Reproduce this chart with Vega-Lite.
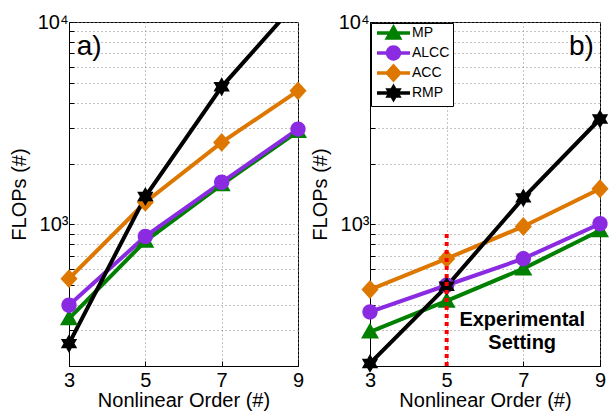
{
  "$schema": "https://vega.github.io/schema/vega-lite/v6.json",
  "padding": {"left": 8, "top": 11, "right": 0, "bottom": 0},
  "background": "white",
  "bounds": "flush",
  "spacing": 72,
  "data": {
    "values": [
      {"panel": "a", "series": "MP", "order": 3, "flops": 343},
      {"panel": "a", "series": "MP", "order": 5, "flops": 828},
      {"panel": "a", "series": "MP", "order": 7, "flops": 1574},
      {"panel": "a", "series": "MP", "order": 9, "flops": 2884},
      {"panel": "a", "series": "ALCC", "order": 3, "flops": 399},
      {"panel": "a", "series": "ALCC", "order": 5, "flops": 873},
      {"panel": "a", "series": "ALCC", "order": 7, "flops": 1616},
      {"panel": "a", "series": "ALCC", "order": 9, "flops": 2958},
      {"panel": "a", "series": "ACC", "order": 3, "flops": 540},
      {"panel": "a", "series": "ACC", "order": 5, "flops": 1288},
      {"panel": "a", "series": "ACC", "order": 7, "flops": 2543},
      {"panel": "a", "series": "ACC", "order": 9, "flops": 4571},
      {"panel": "a", "series": "RMP", "order": 3, "flops": 258},
      {"panel": "a", "series": "RMP", "order": 5, "flops": 1374},
      {"panel": "a", "series": "RMP", "order": 7, "flops": 4786},
      {"panel": "a", "series": "RMP", "order": 9, "flops": 12700},
      {"panel": "b", "series": "MP", "order": 3, "flops": 295},
      {"panel": "b", "series": "MP", "order": 5, "flops": 419},
      {"panel": "b", "series": "MP", "order": 7, "flops": 605},
      {"panel": "b", "series": "MP", "order": 9, "flops": 934},
      {"panel": "b", "series": "ALCC", "order": 3, "flops": 370},
      {"panel": "b", "series": "ALCC", "order": 5, "flops": 501},
      {"panel": "b", "series": "ALCC", "order": 7, "flops": 678},
      {"panel": "b", "series": "ALCC", "order": 9, "flops": 1008},
      {"panel": "b", "series": "ACC", "order": 3, "flops": 477},
      {"panel": "b", "series": "ACC", "order": 5, "flops": 678},
      {"panel": "b", "series": "ACC", "order": 7, "flops": 978},
      {"panel": "b", "series": "ACC", "order": 9, "flops": 1500},
      {"panel": "b", "series": "RMP", "order": 3, "flops": 206},
      {"panel": "b", "series": "RMP", "order": 5, "flops": 495},
      {"panel": "b", "series": "RMP", "order": 7, "flops": 1353},
      {"panel": "b", "series": "RMP", "order": 9, "flops": 3318}
    ]
  },
  "hconcat": [
    {
      "width": 229,
      "height": 344,
      "transform": [{"filter": "datum.panel == 'a'"}],
      "layer": [
        {
          "mark": {"type": "line", "clip": true, "strokeWidth": 4},
          "encoding": {
            "x": {"field": "order", "type": "quantitative", "scale": {"domain": [3, 9], "nice": false, "zero": false}, "axis": {"values": [3, 5, 7, 9], "title": "Nonlinear Order (#)"}},
            "y": {"field": "flops", "type": "quantitative", "scale": {"type": "log", "domain": [200, 10000], "nice": false}, "axis": {"values": [200, 300, 400, 500, 600, 700, 800, 900, 1000, 2000, 3000, 4000, 5000, 6000, 7000, 8000, 9000, 10000], "labelExpr": "datum.value == 1000 ? '10³' : datum.value == 10000 ? '10⁴' : ''", "title": "FLOPs (#)"}},
            "color": {"field": "series", "type": "nominal", "scale": {"domain": ["MP", "ALCC", "ACC", "RMP"], "range": ["#008000", "#8A2BE2", "#DD7700", "#000000"]}, "legend": null}
          }
        },
        {
          "transform": [{"filter": "datum.flops <= 10000"}],
          "mark": {"type": "point", "filled": true, "opacity": 1, "strokeWidth": 0, "size": 324},
          "encoding": {
            "x": {"field": "order", "type": "quantitative"},
            "y": {"field": "flops", "type": "quantitative"},
            "color": {"field": "series", "type": "nominal", "legend": null},
            "shape": {"field": "series", "type": "nominal", "legend": null, "scale": {"domain": ["MP", "ALCC", "ACC", "RMP"], "range": [
              "M0,-1 L1,0.75 L-1,0.75 Z",
              "M-0.85,0 A0.85,0.85 0 1,1 0.85,0 A0.85,0.85 0 1,1 -0.85,0 Z",
              "M0,-1.05 L0.95,0 L0,1.05 L-0.95,0 Z",
              "M0,-1.05 L0.303,-0.525 L0.909,-0.525 L0.606,0 L0.909,0.525 L0.303,0.525 L0,1.05 L-0.303,0.525 L-0.909,0.525 L-0.606,0 L-0.909,-0.525 L-0.303,-0.525 Z"
            ]}}
          }
        },
        {
          "data": {"values": [{"label": "a)"}]},
          "mark": {"type": "text", "align": "left", "baseline": "middle", "fontSize": 28, "font": "Liberation Sans", "fill": "black", "strokeWidth": 0},
          "encoding": {"x": {"datum": 3.2}, "y": {"datum": 7500}, "text": {"field": "label"}}
        }
      ]
    },
    {
      "width": 230,
      "height": 344,
      "transform": [{"filter": "datum.panel == 'b'"}],
      "resolve": {"scale": {"shape": "independent", "color": "independent"}},
      "layer": [
        {
          "mark": {"type": "line", "clip": true, "strokeWidth": 4},
          "encoding": {
            "x": {"field": "order", "type": "quantitative", "scale": {"domain": [3, 9], "nice": false, "zero": false}, "axis": {"values": [3, 5, 7, 9], "title": "Nonlinear Order (#)"}},
            "y": {"field": "flops", "type": "quantitative", "scale": {"type": "log", "domain": [200, 10000], "nice": false}, "axis": {"values": [200, 300, 400, 500, 600, 700, 800, 900, 1000, 2000, 3000, 4000, 5000, 6000, 7000, 8000, 9000, 10000], "labelExpr": "datum.value == 1000 ? '10³' : datum.value == 10000 ? '10⁴' : ''", "title": "FLOPs (#)"}},
            "color": {"field": "series", "type": "nominal", "scale": {"domain": ["MP", "ALCC", "ACC", "RMP"], "range": ["#008000", "#8A2BE2", "#DD7700", "#000000"]}, "legend": null}
          }
        },
        {
          "mark": {"type": "point", "filled": true, "opacity": 1, "strokeWidth": 0, "size": 324},
          "encoding": {
            "x": {"field": "order", "type": "quantitative"},
            "y": {"field": "flops", "type": "quantitative"},
            "color": {"field": "series", "type": "nominal", "legend": null, "scale": {"domain": ["MP", "ALCC", "ACC", "RMP"], "range": ["#008000", "#8A2BE2", "#DD7700", "#000000"]}},
            "shape": {"field": "series", "type": "nominal", "legend": null, "scale": {"domain": ["MP", "ALCC", "ACC", "RMP"], "range": [
              "M0,-1 L1,0.75 L-1,0.75 Z",
              "M-0.85,0 A0.85,0.85 0 1,1 0.85,0 A0.85,0.85 0 1,1 -0.85,0 Z",
              "M0,-1.05 L0.95,0 L0,1.05 L-0.95,0 Z",
              "M0,-1.05 L0.303,-0.525 L0.909,-0.525 L0.606,0 L0.909,0.525 L0.303,0.525 L0,1.05 L-0.303,0.525 L-0.909,0.525 L-0.606,0 L-0.909,-0.525 L-0.303,-0.525 Z"
            ]}}
          }
        },
        {
          "data": {"values": [{"order": 5, "lo": 200, "hi": 916}]},
          "mark": {"type": "rule", "color": "#FF0000", "strokeWidth": 4, "strokeDash": [4, 4]},
          "encoding": {"x": {"field": "order", "type": "quantitative"}, "y": {"field": "lo", "type": "quantitative"}, "y2": {"field": "hi"}}
        },
        {
          "data": {"values": [{"label": ["Experimental", "Setting"]}]},
          "mark": {"type": "text", "align": "center", "baseline": "middle", "fontSize": 20, "fontWeight": "bold", "lineHeight": 23, "font": "Liberation Sans", "fill": "black", "strokeWidth": 0},
          "encoding": {"x": {"datum": 6.97}, "y": {"datum": 337}, "text": {"field": "label"}}
        },
        {
          "data": {"values": [{"label": "b)"}]},
          "mark": {"type": "text", "align": "right", "baseline": "middle", "fontSize": 28, "font": "Liberation Sans", "fill": "black", "strokeWidth": 0},
          "encoding": {"x": {"datum": 8.84}, "y": {"datum": 7500}, "text": {"field": "label"}}
        },
        {
          "transform": [{"filter": "false"}],
          "mark": {"type": "point", "filled": true, "opacity": 1, "strokeWidth": 0, "size": 196},
          "encoding": {
            "x": {"field": "order", "type": "quantitative"},
            "y": {"field": "flops", "type": "quantitative"},
            "color": {"field": "series", "type": "nominal", "title": null, "scale": {"domain": ["MP", "ALCC", "ACC", "RMP"], "range": ["#008000", "#8A2BE2", "#DD7700", "#000000"]}},
            "shape": {"field": "series", "type": "nominal", "title": null, "scale": {"domain": ["MP", "ALCC", "ACC", "RMP"], "range": [
              "M0,-1.35 L0,1.35 M0,-1.286 L1.286,0.964 L-1.286,0.964 Z M-2.357,-0.257 L2.357,-0.257 L2.357,0.257 L-2.357,0.257 Z",
              "M0,-1.35 L0,1.35 M-1.093,0 A1.093,1.093 0 1,1 1.093,0 A1.093,1.093 0 1,1 -1.093,0 Z M-2.357,-0.257 L2.357,-0.257 L2.357,0.257 L-2.357,0.257 Z",
              "M0,-1.35 L1.221,0 L0,1.35 L-1.221,0 Z M-2.357,-0.257 L2.357,-0.257 L2.357,0.257 L-2.357,0.257 Z",
              "M0,-1.35 L0.39,-0.675 L1.169,-0.675 L0.779,0 L1.169,0.675 L0.39,0.675 L0,1.35 L-0.39,0.675 L-1.169,0.675 L-0.779,0 L-1.169,-0.675 L-0.39,-0.675 Z M-2.357,-0.257 L2.357,-0.257 L2.357,0.257 L-2.357,0.257 Z"
            ]}}
          }
        }
      ]
    }
  ],
  "config": {
    "font": "Liberation Sans",
    "view": {"stroke": "black", "strokeWidth": 1},
    "axis": {
      "labelFont": "Liberation Sans",
      "titleFont": "Liberation Sans",
      "labelFontSize": 20,
      "titleFontSize": 20,
      "titleFontWeight": "normal",
      "labelColor": "black",
      "titleColor": "black",
      "domainColor": "black",
      "tickColor": "black",
      "tickSize": -5,
      "grid": true,
      "gridColor": "#888888",
      "gridDash": [1, 3],
      "gridOpacity": 1,
      "gridWidth": 1
    },
    "axisX": {"labelPadding": 9, "titlePadding": 0, "labelFlush": false},
    "axisY": {"labelPadding": 6, "titlePadding": 8},
    "legend": {
      "orient": "none",
      "legendX": 1,
      "legendY": 1,
      "strokeColor": "black",
      "fillColor": "white",
      "padding": 3,
      "symbolSize": 196,
      "symbolStrokeWidth": 0,
      "symbolOffset": 12.5,
      "labelOffset": 11.5,
      "labelFontSize": 14,
      "labelFont": "Liberation Sans",
      "labelColor": "black",
      "rowPadding": 0
    }
  }
}
